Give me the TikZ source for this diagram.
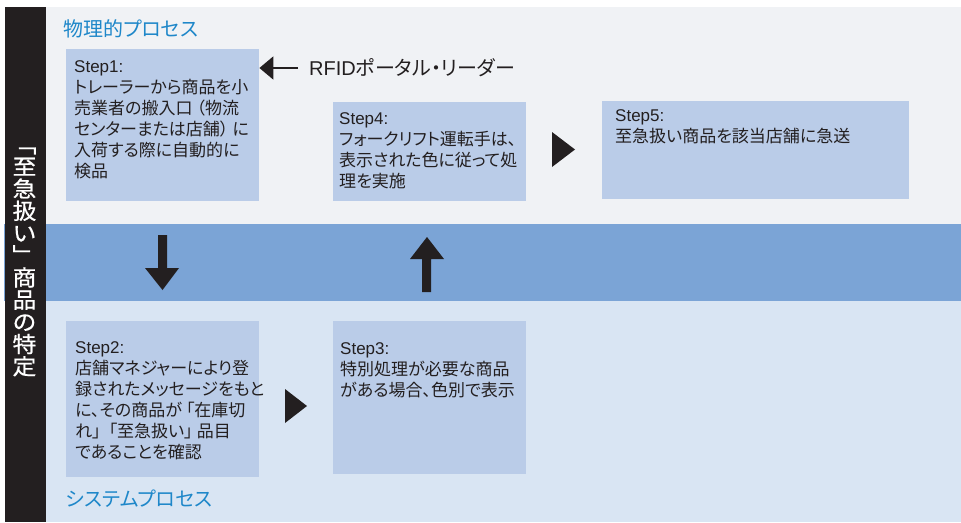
\documentclass[tikz,border=0pt]{standalone}
\usepackage{fontspec}
\setmainfont{Noto Sans CJK JP}[RawFeature={+palt}]
\newfontfamily\sidefont{Noto Sans CJK JP}[FakeStretch=1.08, FakeBold=0.6]
\newfontfamily\lat{Liberation Sans}
\usetikzlibrary{arrows.meta}
\definecolor{bgtop}{HTML}{F0F2F5}
\definecolor{bandc}{HTML}{7BA4D6}
\definecolor{bgbot}{HTML}{D9E5F3}
\definecolor{boxc}{HTML}{BACCE8}
\definecolor{dark}{HTML}{231F20}
\definecolor{ttlblue}{HTML}{1E87C9}
\newcommand\ob[1]{\hspace{4pt}#1}
\newcommand\cb[1]{#1\hspace{4pt}}
\tikzset{
  x=1pt, y=-1pt,
  stepbox/.style={fill=boxc, draw=none, inner sep=0pt, anchor=north west},
  txt/.style={anchor=north west, inner sep=0pt, align=left, text=dark,
    font=\fontsize{17}{21}\selectfont},
  ttl/.style={anchor=west, inner sep=0pt, text=ttlblue, font=\fontsize{20}{24}\selectfont},
  tri/.style={fill=dark, draw=none},
  ptr/.style={draw=dark, line width=2pt, -{Triangle[length=14pt,width=23pt]}}
}
\begin{document}
\begin{tikzpicture}
\useasboundingbox (0,0) rectangle (961,522);
\fill[white] (0,0) rectangle (961,522);
% backgrounds
\fill[bgtop] (45,7) rectangle (961,224);
\fill[bandc] (4,224) rectangle (961,301);
\fill[bgbot] (45,301) rectangle (961,522);
\fill[dark] (5,7) rectangle (46,522);
% sidebar text
\node[inner sep=0pt, align=center, text=white, font=\sidefont\fontsize{22}{22.2}\selectfont] (side) at (24.5,262)
  {﹁\\至\\急\\扱\\い\\﹂\\商\\品\\の\\特\\定};
% titles
\node[ttl] (phys) at (63,29) {物理的プロセス};
\node[ttl] (sys) at (66,499) {システムプロセス};
% step boxes
\node[stepbox, minimum width=193pt, minimum height=152pt] (s1) at (66,49) {};
\node[stepbox, minimum width=193pt, minimum height=99pt] (s4) at (333,102) {};
\node[stepbox, minimum width=307pt, minimum height=98pt] (s5) at (602,101) {};
\node[stepbox, minimum width=193pt, minimum height=156pt] (s2) at (66,321) {};
\node[stepbox, minimum width=193pt, minimum height=153pt] (s3) at (333,321) {};
% step texts
\node[txt] (t1) at (74,60) {{\lat Step1:}\\トレーラーから商品を小\\売業者の搬入口\ob{（}物流\\センターまたは店舗\cb{）}に\\入荷する際に自動的に\\検品};
\node[txt] (t4) at (339,112) {{\lat Step4:}\\フォークリフト運転手は、\\表示された色に従って処\\理を実施};
\node[txt] (t5) at (615,109) {{\lat Step5:}\\至急扱い商品を該当店舗に急送};
\node[txt] (t2) at (75,341) {{\lat Step2:}\\店舗マネジャーにより登\\録されたメッセージをもと\\に、その商品が\ob{「}在庫切\\れ\cb{」}\ob{「}至急扱い\cb{」}品目\\であることを確認};
\node[txt] (t3) at (340,342) {{\lat Step3:}\\特別処理が必要な商品\\がある場合、色別で表示};
% RFID reader
\node[anchor=west, inner xsep=11pt, inner ysep=0pt, text=dark, font=\fontsize{20}{24}\selectfont] (rfid) at (298,68) {{\lat RFID}ポータル・リーダー};
\draw[ptr] (rfid.west) -- (rfid.west -| s1.east);
% right-pointing triangles
\fill[tri] (552,132) -- (575,149.5) -- (552,167) -- cycle;
\fill[tri] (285,389) -- (307,406) -- (285,423) -- cycle;
% band arrows
\fill[tri] (158,235) -- (167,235) -- (167,268) -- (179,268) -- (162.5,290) -- (145,268) -- (158,268) -- cycle;
\fill[tri] (422,292) -- (431,292) -- (431,259) -- (444,259) -- (427,237) -- (410,259) -- (422,259) -- cycle;
\end{tikzpicture}
\end{document}
